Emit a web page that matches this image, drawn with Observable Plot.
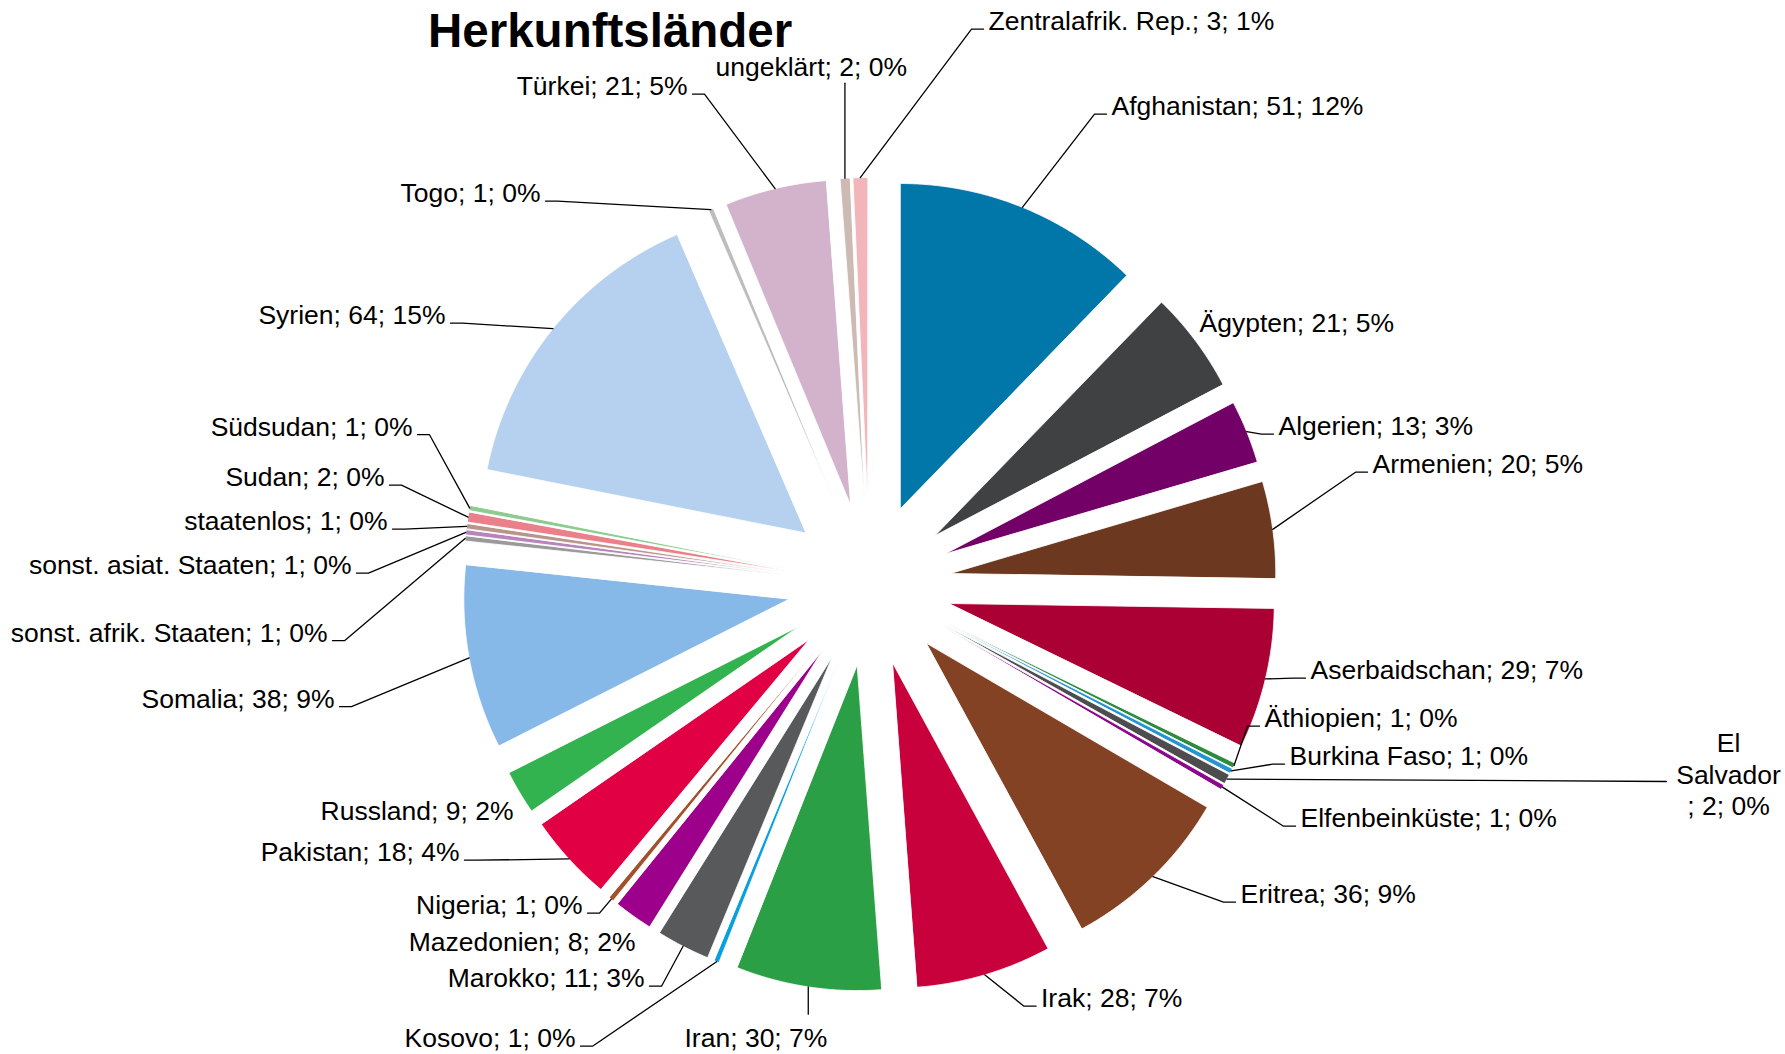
<!DOCTYPE html>
<html>
<head>
<meta charset="utf-8">
<script src="https://cdn.jsdelivr.net/npm/d3@7"></script>
<script src="https://cdn.jsdelivr.net/npm/@observablehq/plot@0.6"></script>
<style>
  html, body { margin: 0; padding: 0; background: #fff; }
  #wrap { position: relative; width: 1785px; height: 1054px; }
  #title { position: absolute; left: 428px; top: 7px; font: bold 47.5px "Liberation Sans", Arial, sans-serif; line-height: 1; color: #000; }
  #chart { position: absolute; left: 0; top: 0; }
</style>
</head>
<body>
<div id="wrap">
  <div id="chart"></div>
  <div id="title">Herkunftsländer</div>
</div>
<script>
// ---- data ----
const names = ["Afghanistan","Ägypten","Algerien","Armenien","Aserbaidschan","Äthiopien","Burkina Faso","El Salvador","Elfenbeinküste","Eritrea","Irak","Iran","Kosovo","Marokko","Mazedonien","Nigeria","Pakistan","Russland","Somalia","sonst. afrik. Staaten","sonst. asiat. Staaten","staatenlos","Sudan","Südsudan","Syrien","Togo","Türkei","ungeklärt","Zentralafrik. Rep."];
const values = [51,21,13,20,29,1,1,2,1,36,28,30,1,11,8,1,18,9,38,1,1,1,2,1,64,1,21,2,3];
const colors = ["#0176A9","#404143","#730066","#6D3820","#AB0033","#2E8B3E","#2494D2","#4D4D4F","#8B0A8B","#834223","#C8003C","#2A9F46","#0AA0E0","#58595B","#9D008B","#A0522D","#E20045","#33B34F","#86B9E8","#9A9A9A","#B784BE","#B8958A","#E9808A","#8DCB8F","#B5D1EF","#BDBDBD","#D3B3CB","#CDBBB3","#F2B5BA"];
const labelText = names.map((n, i) => n === "El Salvador" ? "El\nSalvador\n; " + values[i] : n + "; " + values[i]);

// ---- layout (pixels relative to pie centre, y down) ----
const R = 325, EXPLODE = 82, FS = 26.5, LABEL_SHIFT = -2.3;
// [x, baseline y, anchor, leader mode]
const labelLayout = [
  [242, -467, "start", "side"],
  [330, -250, "start", "none"],
  [409, -147, "start", "side"],
  [503, -109, "start", "side"],
  [441, 97, "start", "side"],
  [395, 145, "start", "side"],
  [420, 183, "start", "side"],
  [859, 233, "middle", "custom"],
  [431, 245, "start", "side"],
  [371, 321, "start", "side"],
  [171.5, 425, "start", "side"],
  [-185, 465, "start", "top"],
  [-294, 465, "end", "side"],
  [-225, 405, "end", "side"],
  [-234, 369, "end", "none"],
  [-287, 332, "end", "side"],
  [-410, 279, "end", "side"],
  [-356, 238, "end", "none"],
  [-535, 125.5, "end", "side"],
  [-542, 59.5, "end", "side"],
  [-518, -8, "end", "side"],
  [-482, -52, "end", "side"],
  [-485, -96, "end", "side"],
  [-457, -146.5, "end", "side"],
  [-424, -258, "end", "side"],
  [-329, -380, "end", "side"],
  [-182, -487, "end", "side"],
  [-154, -506, "start", "bottom"],
  [119, -552, "start", "side"]
];
const customLeader = { "El Salvador": [797, 197] };

// ---- geometry ----
const total = d3.sum(values);
let acc = 0;
const slices = names.map((name, i) => {
  const a0 = acc / total * 2 * Math.PI;
  acc += values[i];
  const a1 = acc / total * 2 * Math.PI;
  const m = (a0 + a1) / 2;
  const pct = Math.round(values[i] / total * 100);
  return {name, value: values[i], color: colors[i], a0, a1, m, pct, i};
});
const dir = t => [Math.sin(t), -Math.cos(t)];

const polyPts = [];
for (const s of slices) {
  const [ux, uy] = dir(s.m);
  const ax = EXPLODE * ux, ay = EXPLODE * uy;
  polyPts.push({name: s.name, color: s.color, x: ax, y: ay});
  const n = Math.max(2, Math.ceil((s.a1 - s.a0) / (0.4 * Math.PI / 180)));
  for (let k = 0; k <= n; k++) {
    const t = s.a0 + (s.a1 - s.a0) * k / n;
    const [vx, vy] = dir(t);
    polyPts.push({name: s.name, color: s.color, x: ax + R * vx, y: ay + R * vy});
  }
}

const labels = slices.map((s, i) => {
  const [x, y, anchor, mode] = labelLayout[i];
  const text = labelText[i] + "; " + s.pct + "%";
  return {name: s.name, x, y: y + LABEL_SHIFT, anchor, mode, text};
});

const leaderPts = [];
for (const s of slices) {
  const L = labels[s.i];
  if (L.mode === "none") continue;
  const [ux, uy] = dir(s.m);
  const ox = (R + EXPLODE) * ux, oy = (R + EXPLODE) * uy;
  let pts;
  if (L.mode === "side") {
    const sg = L.anchor === "start" ? -1 : 1;
    const ly = L.y - 1;
    pts = [[L.x + sg * 5, ly], [L.x + sg * 17, ly], [ox, oy]];
  } else if (L.mode === "top") {
    pts = [[ox, oy], [ox, L.y - 33]];
  } else if (L.mode === "bottom") {
    pts = [[ox, oy], [ox, L.y + 7]];
  } else {
    const c = customLeader[s.name];
    pts = [[c[0], c[1]], [ox, oy]];
  }
  pts.forEach(([x, y]) => leaderPts.push({name: s.name, x, y}));
}

const textMark = anchor => Plot.text(labels.filter(d => d.anchor === anchor), {
  x: "x", y: "y", text: "text", textAnchor: anchor, lineAnchor: "bottom",
  lineHeight: 1.19, fontSize: FS, fill: "#000"
});

const chart = Plot.plot({
  width: 1785, height: 1054, margin: 0,
  style: {fontFamily: "'Liberation Sans', Arial, sans-serif", background: "#fff"},
  x: {domain: [-869, 916], range: [0, 1785], axis: null},
  y: {domain: [-584, 470], range: [0, 1054], axis: null},
  color: {type: "identity"},
  marks: [
    Plot.line(polyPts, {x: "x", y: "y", z: "name", fill: "color", stroke: "#fff", strokeWidth: 0.8, curve: "linear-closed"}),
    Plot.line(leaderPts, {x: "x", y: "y", z: "name", stroke: "#000", strokeWidth: 1.3, curve: "linear"}),
    textMark("start"),
    textMark("end"),
    textMark("middle")
  ]
});
document.getElementById("chart").appendChild(chart);
</script>
</body>
</html>
